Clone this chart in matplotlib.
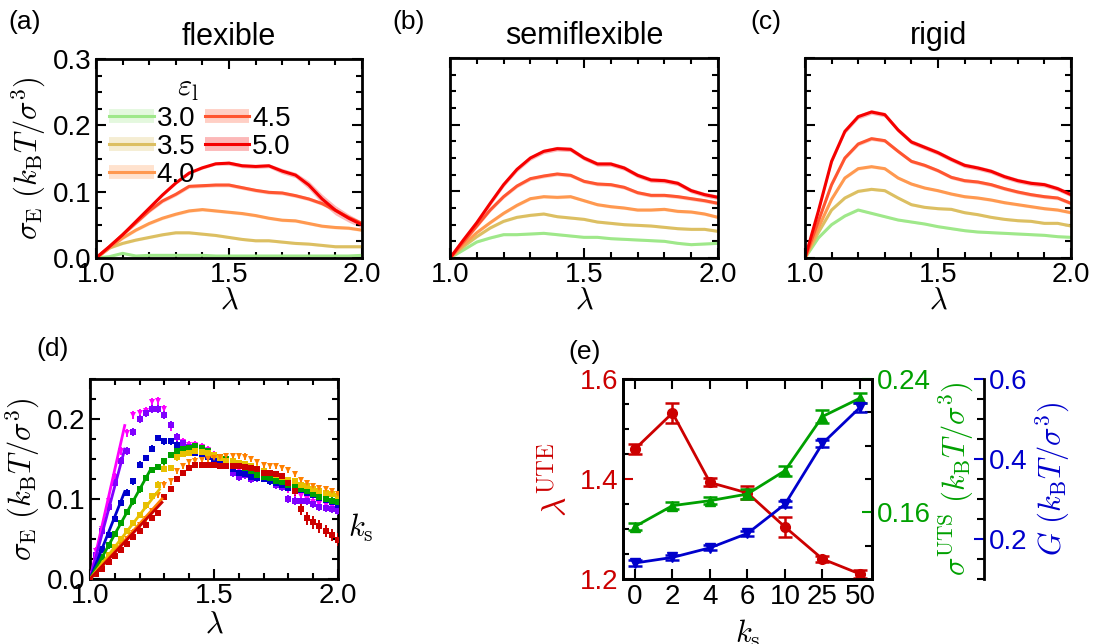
import numpy as np
import matplotlib
matplotlib.use("Agg")
import matplotlib.pyplot as plt
from matplotlib.ticker import MultipleLocator, FixedLocator, FormatStrFormatter
from matplotlib.lines import Line2D

plt.rcParams['font.family'] = ['Liberation Sans', 'DejaVu Sans']
plt.rcParams['mathtext.fontset'] = 'cm'

# ---------------- data: panels (a)-(c) ----------------
lam_abc = [1.00, 1.05, 1.10, 1.15, 1.20, 1.25, 1.30, 1.35, 1.40, 1.45, 1.50,
           1.55, 1.60, 1.65, 1.70, 1.75, 1.80, 1.85, 1.90, 1.95, 2.00]
eps_labels = ['3.0', '3.5', '4.0', '4.5', '5.0']
eps_colors = ['#9fe88a', '#dcbf62', '#ff9950', '#ff5530', '#f50000']

flex_30 = [0, 0.002, 0.007, 0.003, 0.004, 0.004, 0.004, 0.004, 0.004, 0.003, 0.003,
           0.003, 0.003, 0.003, 0.003, 0.003, 0.003, 0.003, 0.003, 0.003, 0.004]
flex_35 = [0, 0.015, 0.022, 0.027, 0.031, 0.035, 0.038, 0.038, 0.036, 0.034, 0.031,
           0.028, 0.026, 0.026, 0.024, 0.022, 0.021, 0.019, 0.017, 0.017, 0.017]
flex_40 = [0, 0.015, 0.030, 0.042, 0.052, 0.060, 0.066, 0.071, 0.073, 0.071, 0.069,
           0.067, 0.064, 0.060, 0.057, 0.056, 0.052, 0.048, 0.046, 0.045, 0.042]
flex_45 = [0, 0.017, 0.035, 0.053, 0.071, 0.086, 0.096, 0.108, 0.109, 0.110, 0.110,
           0.106, 0.102, 0.099, 0.098, 0.094, 0.089, 0.082, 0.072, 0.061, 0.052]
flex_50 = [0, 0.017, 0.035, 0.055, 0.075, 0.095, 0.113, 0.128, 0.136, 0.142, 0.143,
           0.139, 0.138, 0.139, 0.131, 0.125, 0.110, 0.089, 0.072, 0.060, 0.050]
flex_50_err = [0, 0.001, 0.001, 0.001, 0.002, 0.002, 0.002, 0.002, 0.002, 0.002, 0.003,
               0.003, 0.003, 0.003, 0.004, 0.004, 0.006, 0.007, 0.007, 0.006, 0.005]

semi_30 = [0, 0.012, 0.024, 0.030, 0.035, 0.035, 0.036, 0.037, 0.035, 0.033, 0.031,
           0.031, 0.029, 0.028, 0.027, 0.026, 0.025, 0.022, 0.020, 0.021, 0.022]
semi_35 = [0, 0.017, 0.032, 0.045, 0.055, 0.061, 0.064, 0.066, 0.062, 0.060, 0.058,
           0.054, 0.052, 0.050, 0.049, 0.048, 0.046, 0.044, 0.043, 0.043, 0.040]
semi_40 = [0, 0.020, 0.038, 0.053, 0.067, 0.079, 0.089, 0.092, 0.091, 0.092, 0.086,
           0.080, 0.077, 0.075, 0.072, 0.072, 0.073, 0.070, 0.069, 0.066, 0.061]
semi_45 = [0, 0.024, 0.048, 0.072, 0.092, 0.108, 0.119, 0.123, 0.126, 0.124, 0.115,
           0.111, 0.110, 0.106, 0.098, 0.094, 0.094, 0.092, 0.089, 0.086, 0.082]
semi_50 = [0, 0.027, 0.053, 0.082, 0.110, 0.133, 0.150, 0.160, 0.164, 0.163, 0.150,
           0.141, 0.141, 0.135, 0.124, 0.117, 0.116, 0.112, 0.101, 0.095, 0.091]

rigid_30 = [0, 0.030, 0.050, 0.063, 0.072, 0.067, 0.062, 0.057, 0.054, 0.051, 0.047,
            0.044, 0.041, 0.039, 0.038, 0.037, 0.036, 0.035, 0.034, 0.032, 0.031]
rigid_35 = [0, 0.038, 0.072, 0.090, 0.100, 0.103, 0.101, 0.090, 0.080, 0.076, 0.074,
            0.073, 0.068, 0.065, 0.061, 0.058, 0.056, 0.055, 0.052, 0.052, 0.048]
rigid_40 = [0, 0.045, 0.088, 0.120, 0.134, 0.137, 0.134, 0.120, 0.111, 0.105, 0.101,
            0.096, 0.092, 0.090, 0.087, 0.083, 0.080, 0.077, 0.074, 0.072, 0.068]
rigid_45 = [0, 0.055, 0.110, 0.150, 0.171, 0.179, 0.176, 0.160, 0.145, 0.139, 0.131,
            0.121, 0.116, 0.114, 0.110, 0.104, 0.099, 0.095, 0.092, 0.090, 0.082]
rigid_50 = [0, 0.070, 0.145, 0.190, 0.212, 0.219, 0.215, 0.192, 0.174, 0.166, 0.158,
            0.148, 0.139, 0.135, 0.130, 0.122, 0.116, 0.112, 0.110, 0.104, 0.095]

band_err = [0.0015, 0.0018, 0.0022, 0.0028, 0.0035]

# ---------------- data: panel (d) ----------------
lam_d = [1.000, 1.025, 1.050, 1.075, 1.100, 1.125, 1.150, 1.175, 1.200, 1.225,
         1.250, 1.275, 1.300, 1.325, 1.350, 1.375, 1.400, 1.425, 1.450, 1.475,
         1.500, 1.525, 1.550, 1.575, 1.600, 1.625, 1.650, 1.675, 1.700, 1.725,
         1.750, 1.775, 1.800, 1.825, 1.850, 1.875, 1.900, 1.925, 1.950, 1.975, 2.000]
ks_labels = ['0', '2', '4', '6', '10', '25', '50']
ks_colors = ['#cc0000', '#ff8000', '#e8c000', '#00a000', '#0000cc', '#8000ff', '#ff00ff']

d_ks0 = [0.000, 0.006, 0.013, 0.021, 0.029, 0.036, 0.044, 0.052, 0.060, 0.068,
         0.076, 0.082, 0.103, 0.113, 0.125, 0.132, 0.139, 0.142, 0.143, 0.143,
         0.142, 0.141, 0.141, 0.141, 0.141, 0.140, 0.139, 0.137, 0.133, 0.132,
         0.131, 0.129, 0.120, 0.110, 0.088, 0.076, 0.071, 0.066, 0.060, 0.055, 0.049]
d_ks2 = [0.001, 0.008, 0.017, 0.025, 0.034, 0.042, 0.050, 0.058, 0.067, 0.075,
         0.085, 0.105, 0.118, 0.122, 0.135, 0.141, 0.146, 0.148, 0.149, 0.150,
         0.151, 0.152, 0.154, 0.154, 0.154, 0.153, 0.150, 0.146, 0.142, 0.141,
         0.141, 0.139, 0.136, 0.131, 0.124, 0.120, 0.116, 0.114, 0.112, 0.110, 0.106]
d_ks4 = [0.001, 0.010, 0.020, 0.030, 0.040, 0.050, 0.060, 0.070, 0.080, 0.092,
         0.104, 0.118, 0.138, 0.139, 0.152, 0.156, 0.158, 0.160, 0.159, 0.157,
         0.155, 0.151, 0.148, 0.147, 0.145, 0.144, 0.141, 0.138, 0.135, 0.132,
         0.130, 0.128, 0.124, 0.122, 0.118, 0.116, 0.112, 0.110, 0.108, 0.106, 0.104]
d_ks6 = [0.002, 0.013, 0.027, 0.042, 0.056, 0.070, 0.084, 0.097, 0.112, 0.126,
         0.136, 0.140, 0.147, 0.155, 0.160, 0.163, 0.164, 0.166, 0.164, 0.160,
         0.155, 0.152, 0.150, 0.146, 0.141, 0.139, 0.135, 0.130, 0.128, 0.126,
         0.123, 0.121, 0.118, 0.117, 0.113, 0.110, 0.106, 0.103, 0.100, 0.098, 0.096]
d_ks10 = [0.002, 0.020, 0.037, 0.055, 0.075, 0.095, 0.108, 0.122, 0.143, 0.151,
          0.163, 0.176, 0.172, 0.172, 0.168, 0.163, 0.160, 0.158, 0.156, 0.153,
          0.150, 0.146, 0.143, 0.137, 0.133, 0.131, 0.128, 0.126, 0.125, 0.122,
          0.120, 0.118, 0.114, 0.112, 0.111, 0.108, 0.105, 0.101, 0.099, 0.096, 0.093]
d_ks25 = [0.003, 0.030, 0.060, 0.090, 0.120, 0.148, 0.160, 0.184, 0.200, 0.208,
          0.212, 0.213, 0.205, 0.192, 0.177, 0.170, 0.165, 0.163, 0.160, 0.153,
          0.148, 0.150, 0.145, 0.132, 0.128, 0.130, 0.125, 0.126, 0.126, 0.122,
          0.118, 0.115, 0.100, 0.098, 0.097, 0.098, 0.094, 0.090, 0.089, 0.087, 0.085]
d_ks50 = [0.005, 0.035, 0.062, 0.097, 0.128, 0.160, 0.183, 0.205, 0.207, 0.210,
          0.221, 0.222, 0.212, 0.190, 0.175, 0.171, 0.168, 0.167, 0.165, 0.161,
          0.155, 0.151, 0.145, 0.140, 0.136, 0.133, 0.131, 0.129, 0.126, 0.124,
          0.120, 0.117, 0.112, 0.108, 0.104, 0.100, 0.096, 0.094, 0.092, 0.090, 0.088]
d_err = [0.004, 0.004, 0.004, 0.004, 0.004, 0.005, 0.005]
d_ks0_tail_err = [0.003, 0.003, 0.003, 0.003, 0.003, 0.003, 0.003, 0.003, 0.003, 0.003,
                  0.003, 0.003, 0.003, 0.003, 0.003, 0.003, 0.003, 0.003, 0.003, 0.003,
                  0.003, 0.003, 0.003, 0.003, 0.003, 0.003, 0.003, 0.003, 0.003, 0.003,
                  0.004, 0.004, 0.005, 0.006, 0.008, 0.008, 0.008, 0.008, 0.008, 0.008, 0.008]
fit_slope = [0.33, 0.345, 0.40, 0.56, 0.78, 1.16, 1.37]
fit_end = [1.29, 1.29, 1.28, 1.24, 1.14, 1.14, 1.14]

# ---------------- data: panel (e) ----------------
ks_cat = ['0', '2', '4', '6', '10', '25', '50']
lam_ute = [1.460, 1.532, 1.393, 1.372, 1.304, 1.240, 1.210]
lam_ute_err = [0.010, 0.020, 0.008, 0.013, 0.020, 0.006, 0.008]
sig_uts = [0.1515, 0.1640, 0.1670, 0.1710, 0.1850, 0.2175, 0.2285]
sig_uts_err = [0.002, 0.002, 0.002, 0.003, 0.003, 0.004, 0.003]
G_mod = [0.140, 0.154, 0.178, 0.214, 0.287, 0.439, 0.529]
G_err = [0.007, 0.006, 0.006, 0.006, 0.008, 0.008, 0.012]

# ---------------- figure ----------------
W, H = 1097, 644
fig = plt.figure(figsize=(W / 100, H / 100), dpi=100)


def box(x0, y0, x1, y1):
    return [x0 / W, 1 - y1 / H, (x1 - x0) / W, (y1 - y0) / H]


TS = 20      # tick labels
LS = 22      # axis labels
PS = 19      # panel letters


def style_axes(ax, ymax, ymajor):
    ax.set_xlim(1.0, 2.0)
    ax.set_ylim(0, ymax)
    ax.xaxis.set_major_locator(FixedLocator([1.0, 1.5, 2.0]))
    ax.xaxis.set_minor_locator(MultipleLocator(0.1))
    ax.yaxis.set_major_locator(MultipleLocator(ymajor))
    ax.yaxis.set_minor_locator(MultipleLocator(0.025))
    ax.tick_params(which='both', direction='in', top=True, right=True, width=1.5)
    ax.tick_params(which='major', length=7, labelsize=TS, pad=3)
    ax.tick_params(which='minor', length=4)
    for s in ax.spines.values():
        s.set_linewidth(2)
    ax.xaxis.set_major_formatter(FormatStrFormatter('%.1f'))
    ax.yaxis.set_major_formatter(FormatStrFormatter('%.1f'))


ylab = r'$\sigma_{\rm E}\ (k_{\rm B}T/\sigma^3)$'
panels = [
    ('(a)', 'flexible', box(96, 59, 362, 258), [flex_30, flex_35, flex_40, flex_45, flex_50]),
    ('(b)', 'semiflexible', box(450, 58, 718, 258), [semi_30, semi_35, semi_40, semi_45, semi_50]),
    ('(c)', 'rigid', box(805, 58, 1071, 258), [rigid_30, rigid_35, rigid_40, rigid_45, rigid_50]),
]
label_x = [8, 392, 750]
handles = []
for i, (pl, title, rect, series) in enumerate(panels):
    ax = fig.add_axes(rect)
    style_axes(ax, 0.3, 0.1)
    lam = np.array(lam_abc)
    for j, s in enumerate(series):
        s = np.array(s)
        if i == 0 and j == 4:
            e = np.array(flex_50_err)
        else:
            e = band_err[j]
        ax.fill_between(lam, s - e, s + e, color=eps_colors[j], alpha=0.28, lw=0)
        ax.plot(lam, s, color=eps_colors[j], lw=2.2)
        if i == 0:
            band = Line2D([], [], color=eps_colors[j], lw=10, alpha=0.28, solid_capstyle='butt')
            line = Line2D([], [], color=eps_colors[j], lw=2.2)
            handles.append((band, line))
    ax.set_title(title, fontsize=22, pad=10)
    ax.set_xlabel(r'$\lambda$', fontsize=LS, labelpad=-2)
    if i == 0:
        ax.set_ylabel(ylab, fontsize=LS, labelpad=4)
        ax.legend(handles, eps_labels, ncol=2, frameon=False, fontsize=TS,
                  loc='upper left', bbox_to_anchor=(0.05, 0.765),
                  handlelength=1.6, handletextpad=0.1, columnspacing=0.35,
                  labelspacing=0.08, borderaxespad=0, borderpad=0)
        ax.text(0.345, 0.855, r'$\varepsilon_{\rm l}$', transform=ax.transAxes,
                fontsize=22, ha='center', va='center')
    else:
        ax.set_yticklabels([])
    fig.text(label_x[i] / W, 1 - 22 / H, pl, fontsize=PS, ha='left', va='center')

# ---------------- panel (d) ----------------
axd = fig.add_axes(box(90, 379, 338, 579))
style_axes(axd, 0.25, 0.1)
lamd = np.array(lam_d)
d_series = [d_ks0, d_ks2, d_ks4, d_ks6, d_ks10, d_ks25, d_ks50]
order = [6, 5, 4, 3, 2, 1, 0]
for k in order:
    col = ks_colors[k]
    yv = np.array(d_series[k])
    err = np.array(d_ks0_tail_err) if k == 0 else d_err[k]
    mk = 'v' if k in (1, 6) else 's'
    axd.errorbar(lamd, yv, yerr=err, fmt=mk, color=col, ms=5, mew=0,
                 elinewidth=1.4, capsize=2.2, capthick=1.4, zorder=3)
for k in order:
    xs = np.linspace(1.0, fit_end[k], 5)
    axd.plot(xs, fit_slope[k] * (xs - 1.0), color=ks_colors[k], lw=2, zorder=5)
axd.set_xlabel(r'$\lambda$', fontsize=LS, labelpad=0)
axd.set_ylabel(ylab, fontsize=LS, labelpad=4)
axd.text(1.09, 0.255, r'$k_{\rm s}$', transform=axd.transAxes, fontsize=22,
         ha='center', va='center')
fig.text(36 / W, 1 - 349 / H, '(d)', fontsize=PS, ha='left', va='center')

# ---------------- panel (e) ----------------
red, green, blue = '#cc0000', '#00a000', '#0000cc'
axe = fig.add_axes(box(623, 379, 872, 579))
xc = np.arange(len(ks_cat))
axe.errorbar(xc, lam_ute, yerr=lam_ute_err, fmt='-o', color=red, ms=7, lw=2,
             elinewidth=1.8, capsize=5, capthick=1.8, zorder=3)
axe.set_xlim(-0.32, 6.32)
axe.set_ylim(1.2, 1.6)
axe.set_xticks(xc)
axe.set_xticklabels(ks_cat)
axe.yaxis.set_major_locator(MultipleLocator(0.2))
axe.yaxis.set_minor_locator(MultipleLocator(0.05))
axe.tick_params(which='both', direction='in', top=True, right=False, width=1.5)
axe.tick_params(which='major', length=7, labelsize=TS)
axe.tick_params(axis='y', which='major', colors=red, labelcolor=red)
axe.tick_params(axis='y', which='minor', length=4, color='black')
for s in axe.spines.values():
    s.set_linewidth(2)
axe.yaxis.set_major_formatter(FormatStrFormatter('%.1f'))
axe.set_ylabel(r'$\lambda^{\rm UTE}$', color=red, fontsize=24, labelpad=4)
axe.set_xlabel(r'$k_{\rm s}$', fontsize=LS, labelpad=6)

axg = axe.twinx()
axg.errorbar(xc, sig_uts, yerr=sig_uts_err, fmt='-^', color=green, ms=7, lw=2,
             elinewidth=1.8, capsize=5, capthick=1.8, zorder=3)
axg.set_ylim(0.12, 0.24)
axg.yaxis.set_major_locator(FixedLocator([0.16, 0.24]))
axg.yaxis.set_minor_locator(FixedLocator([0.14, 0.18, 0.20, 0.22]))
axg.tick_params(which='both', direction='in', width=1.5)
axg.tick_params(which='major', length=7, labelsize=TS, colors=green, labelcolor=green)
axg.tick_params(which='minor', length=5, color='black')
axg.yaxis.set_major_formatter(FormatStrFormatter('%.2f'))
axg.set_ylabel(r'$\sigma^{\rm UTS}\ (k_{\rm B}T/\sigma^3)$', color=green, fontsize=LS, labelpad=4)
for s in axg.spines.values():
    s.set_linewidth(2)

axb = axe.twinx()
axb.spines['right'].set_position(('axes', 1.45))
for nm in ['top', 'bottom', 'left']:
    axb.spines[nm].set_visible(False)
axb.spines['right'].set_linewidth(2)
axb.errorbar(xc, G_mod, yerr=G_err, fmt='-v', color=blue, ms=7, lw=2,
             elinewidth=1.8, capsize=5, capthick=1.8, zorder=3)
axb.set_ylim(0.1, 0.6)
axb.yaxis.set_major_locator(MultipleLocator(0.2))
axb.yaxis.set_minor_locator(MultipleLocator(0.05))
axb.tick_params(which='both', direction='in', width=1.5)
axb.tick_params(which='major', length=7, labelsize=TS, colors=blue, labelcolor=blue)
axb.tick_params(which='minor', length=5, color='black')
axb.yaxis.set_major_formatter(FormatStrFormatter('%.1f'))
axb.set_ylabel(r'$G\ (k_{\rm B}T/\sigma^3)$', color=blue, fontsize=LS, labelpad=4)
fig.text(568 / W, 1 - 352 / H, '(e)', fontsize=PS, ha='left', va='center')

fig.savefig('out.png', dpi=100)
